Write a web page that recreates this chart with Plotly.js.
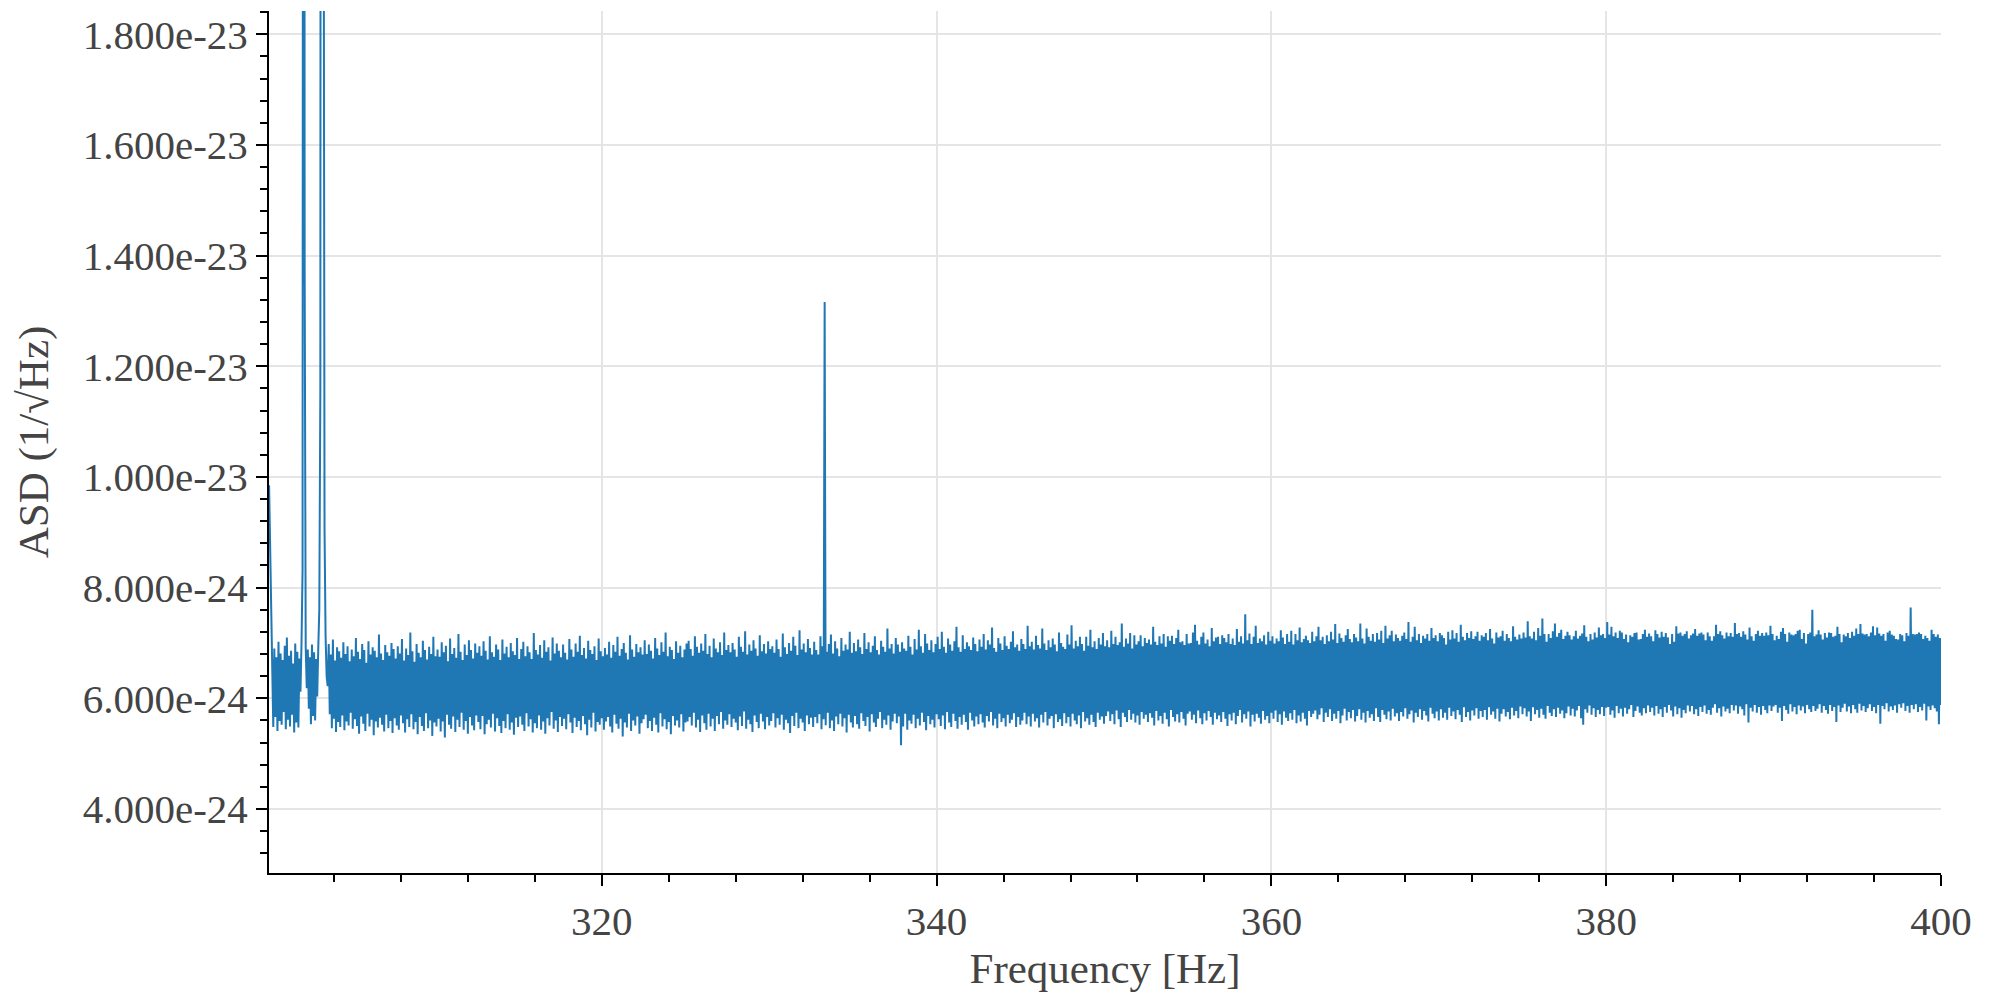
<!DOCTYPE html>
<html>
<head>
<meta charset="utf-8">
<script src="https://cdn.plot.ly/plotly-3.0.1.min.js"></script>
<style>
  body { margin: 0; background: #fff; }
  #asdChart { width: 2000px; height: 1000px; }
</style>
</head>
<body>
<div id="asdChart"></div>
<script>
// frequency grid of the spectrum: first bin and bin width, in Hz
var freqStart = 300.125;
var freqStep = 0.0625;

// ASD values, in units of 1e-26 /sqrt(Hz), one row per 2.5 Hz
var asdRows = [
  [985, 880, 772, 701, 548, 690, 566, 674, 541, 702, 559, 681, 552, 669, 575, 695, 544, 710, 561, 677, 549, 686, 570, 663, 538, 699, 556, 684, 547, 672, 612, 700, 832, 5200, 1380, 692, 618, 688, 581, 674],
  [553, 697, 568, 683, 560, 671, 603, 690, 760, 1160, 6000, 4800, 2400, 905, 712, 640, 622, 698, 571, 679, 546, 706, 563, 668, 539, 692, 557, 685, 548, 673, 569, 701, 542, 680, 558, 694, 551, 667, 574, 688],
  [545, 676, 562, 709, 550, 684, 536, 671, 567, 698, 554, 687, 541, 664, 572, 703, 549, 679, 561, 692, 533, 686, 558, 674, 547, 715, 565, 681, 552, 669, 540, 696, 570, 683, 546, 677, 559, 700, 537, 689],
  [564, 672, 551, 694, 543, 681, 569, 707, 555, 668, 538, 690, 562, 678, 548, 719, 571, 685, 544, 666, 557, 698, 535, 682, 566, 674, 550, 704, 541, 687, 573, 670, 546, 693, 560, 680, 532, 711, 556, 676],
  [549, 688, 563, 675, 540, 701, 558, 683, 529, 695, 570, 667, 552, 708, 545, 680, 567, 691, 539, 673, 561, 716, 548, 684, 574, 669, 543, 697, 559, 678, 536, 705, 566, 687, 551, 672, 542, 699, 569, 682],
  [557, 694, 544, 677, 568, 703, 535, 686, 553, 670, 561, 712, 547, 683, 572, 675, 540, 697, 564, 688, 550, 669, 537, 706, 559, 681, 546, 693, 571, 674, 543, 700, 556, 685, 534, 678, 565, 709, 548, 671],
  [567, 689, 552, 702, 541, 676, 573, 694, 549, 683, 562, 671, 538, 718, 555, 687, 546, 679, 569, 696, 543, 673, 558, 705, 536, 684, 564, 692, 551, 668, 575, 710, 545, 681, 560, 699, 539, 686, 566, 674],
  [550, 697, 563, 682, 544, 670, 571, 707, 556, 688, 537, 675, 565, 699, 548, 684, 559, 713, 542, 678, 568, 691, 553, 672, 533, 704, 561, 687, 547, 680, 574, 694, 540, 669, 557, 708, 552, 685, 564, 676],
  [543, 691, 558, 679, 566, 702, 549, 673, 538, 696, 570, 684, 554, 711, 545, 677, 563, 689, 531, 700, 556, 682, 547, 670, 572, 714, 541, 688, 560, 675, 551, 698, 567, 683, 536, 692, 555, 679, 562, 705],
  [570, 680, 546, 697, 559, 686, 541, 672, 565, 709, 552, 690, 538, 678, 573, 701, 549, 684, 562, 719, 544, 676, 557, 693, 535, 687, 568, 671, 551, 703, 560, 682, 547, 695, 571, 674, 540, 688, 556, 699],
  [558, 704, 566, 689, 551, 677, 574, 712, 547, 693, 561, 682, 539, 699, 569, 686, 555, 716, 543, 680, 572, 695, 549, 674, 563, 708, 541, 690, 568, 683, 553, 701, 575, 678, 545, 719, 560, 687, 552, 696],
  [571, 683, 548, 700, 563, 688, 556, 675, 542, 711, 567, 693, 550, 684, 576, 721, 545, 679, 561, 697, 553, 686, 539, 705, 569, 690, 557, 677, 546, 714, 572, 685, 558, 698, 544, 681, 566, 703, 551, 689],
  [559, 694, 573, 682, 547, 706, 564, 689, 552, 675, 570, 717, 543, 692, 561, 680, 555, 700, 537, 686, 568, 711, 550, 695, 574, 678, 546, 723, 563, 688, 556, 699, 541, 683, 569, 707, 553, 691, 565, 679],
  [548, 702, 566, 687, 555, 679, 571, 712, 544, 694, 562, 1316, 551, 684, 574, 698, 546, 715, 560, 681, 541, 703, 567, 690, 553, 676, 572, 709, 549, 686, 564, 697, 538, 688, 570, 720, 556, 682, 547, 700],
  [568, 685, 553, 706, 545, 692, 573, 680, 559, 718, 550, 689, 566, 701, 540, 683, 571, 695, 556, 712, 548, 687, 563, 679, 575, 704, 546, 693, 561, 684, 552, 726, 569, 690, 543, 698, 558, 681, 572, 709],
  [555, 697, 567, 684, 515, 701, 549, 690, 572, 686, 543, 713, 560, 693, 554, 679, 570, 707, 546, 688, 563, 724, 551, 694, 574, 682, 557, 716, 542, 699, 568, 687, 553, 705, 561, 683, 547, 698, 571, 711],
  [562, 689, 550, 720, 569, 693, 544, 682, 575, 708, 556, 697, 548, 686, 572, 703, 559, 729, 545, 692, 566, 684, 552, 714, 570, 689, 557, 701, 543, 694, 574, 687, 560, 710, 549, 698, 567, 685, 553, 706],
  [571, 693, 556, 716, 547, 688, 568, 705, 558, 697, 575, 728, 551, 691, 563, 684, 546, 709, 572, 699, 557, 687, 564, 712, 549, 695, 570, 689, 555, 702, 561, 721, 573, 692, 548, 697, 566, 686, 552, 707],
  [560, 698, 574, 689, 553, 731, 567, 694, 549, 702, 572, 688, 558, 713, 564, 696, 547, 690, 570, 726, 556, 699, 575, 687, 551, 705, 563, 692, 568, 708, 546, 697, 571, 685, 557, 719, 562, 700, 550, 693],
  [573, 689, 555, 715, 566, 697, 549, 732, 572, 690, 560, 704, 553, 694, 569, 711, 546, 698, 575, 686, 558, 711, 564, 695, 552, 724, 570, 692, 557, 703, 548, 689, 574, 709, 561, 697, 567, 718, 554, 694],
  [568, 705, 576, 692, 559, 722, 571, 698, 553, 711, 578, 696, 562, 701, 548, 735, 574, 693, 566, 708, 557, 699, 579, 718, 561, 690, 572, 714, 556, 697, 569, 703, 552, 714, 575, 694, 563, 709, 570, 700],
  [557, 706, 573, 697, 565, 729, 551, 702, 577, 696, 560, 712, 568, 699, 554, 716, 574, 693, 562, 712, 549, 704, 579, 713, 566, 698, 558, 709, 571, 724, 556, 701, 575, 703, 563, 696, 551, 716, 572, 699],
  [576, 700, 561, 719, 570, 733, 555, 704, 578, 697, 564, 711, 553, 719, 573, 699, 560, 706, 577, 694, 566, 727, 552, 703, 574, 710, 562, 711, 569, 698, 557, 714, 575, 709, 563, 701, 550, 716, 571, 698],
  [560, 708, 574, 696, 553, 725, 568, 702, 579, 712, 556, 699, 571, 752, 563, 705, 576, 717, 549, 698, 570, 711, 558, 731, 572, 700, 565, 708, 554, 703, 577, 714, 561, 697, 568, 720, 555, 704, 574, 712],
  [563, 699, 578, 708, 557, 703, 571, 723, 552, 710, 576, 698, 565, 716, 559, 702, 573, 722, 561, 697, 579, 716, 555, 705, 569, 728, 558, 701, 574, 707, 563, 713, 551, 705, 577, 700, 566, 720, 572, 703],
  [578, 712, 562, 729, 570, 705, 582, 711, 557, 698, 574, 714, 566, 703, 580, 720, 559, 706, 572, 734, 563, 700, 577, 717, 555, 709, 569, 702, 581, 714, 560, 725, 575, 707, 564, 701, 579, 716, 558, 710],
  [568, 703, 580, 735, 561, 708, 574, 699, 556, 726, 577, 711, 565, 704, 571, 716, 559, 702, 582, 718, 566, 706, 557, 722, 579, 700, 570, 731, 562, 708, 576, 714, 560, 722, 581, 703, 567, 715, 573, 709],
  [559, 704, 575, 713, 567, 719, 582, 707, 563, 738, 571, 702, 578, 711, 556, 729, 574, 705, 566, 716, 580, 700, 561, 713, 577, 708, 569, 716, 558, 704, 583, 727, 572, 709, 564, 714, 576, 703, 560, 718],
  [580, 714, 565, 709, 574, 697, 561, 720, 583, 706, 568, 723, 576, 708, 562, 718, 579, 702, 570, 733, 557, 711, 584, 705, 566, 718, 575, 709, 560, 721, 578, 707, 569, 712, 582, 720, 563, 704, 577, 714],
  [566, 711, 579, 718, 561, 705, 584, 725, 570, 708, 576, 699, 563, 719, 581, 710, 558, 712, 572, 722, 580, 704, 567, 716, 575, 709, 562, 703, 583, 730, 569, 711, 577, 706, 564, 715, 585, 708, 571, 719],
  [582, 710, 567, 739, 576, 712, 559, 708, 584, 720, 571, 705, 579, 727, 565, 713, 581, 744, 570, 716, 563, 702, 586, 716, 574, 709, 568, 721, 580, 735, 566, 711, 583, 718, 572, 724, 578, 707, 564, 713],
  [573, 720, 585, 714, 569, 706, 581, 712, 567, 722, 578, 708, 586, 713, 564, 717, 552, 732, 580, 711, 574, 703, 587, 716, 570, 706, 582, 719, 566, 710, 579, 728, 571, 714, 584, 716, 568, 709, 583, 738],
  [584, 715, 570, 729, 578, 712, 565, 719, 586, 709, 573, 722, 581, 719, 567, 707, 583, 715, 572, 701, 580, 714, 588, 711, 566, 718, 577, 719, 585, 706, 574, 707, 569, 716, 582, 724, 573, 711, 587, 717],
  [575, 712, 583, 703, 569, 723, 586, 716, 572, 710, 580, 720, 566, 711, 584, 718, 574, 710, 588, 698, 578, 716, 567, 702, 585, 730, 571, 717, 582, 719, 565, 713, 579, 716, 573, 721, 587, 708, 576, 714],
  [586, 717, 571, 725, 580, 713, 568, 717, 584, 719, 575, 715, 587, 705, 572, 719, 579, 712, 570, 704, 583, 712, 589, 733, 574, 716, 582, 721, 567, 714, 585, 708, 576, 719, 581, 712, 573, 718, 588, 711],
  [578, 736, 587, 716, 572, 718, 585, 711, 580, 721, 569, 715, 589, 706, 556, 728, 583, 712, 576, 704, 588, 716, 574, 722, 584, 713, 570, 718, 586, 713, 579, 719, 573, 714, 587, 731, 577, 716, 585, 705],
  [588, 713, 574, 707, 583, 720, 559, 727, 586, 716, 579, 702, 572, 719, 589, 715, 576, 714, 584, 716, 571, 722, 587, 724, 578, 707, 585, 718, 573, 699, 588, 716, 580, 719, 575, 760, 586, 712, 577, 715],
  [581, 723, 589, 715, 574, 706, 586, 718, 579, 710, 572, 719, 588, 718, 577, 711, 584, 713, 557, 729, 587, 716, 575, 701, 583, 715, 590, 712, 576, 718, 585, 709, 573, 720, 588, 713, 580, 726, 574, 716],
  [590, 734, 578, 717, 586, 715, 575, 716, 582, 712, 589, 719, 577, 730, 584, 714, 573, 728, 588, 717, 554, 713, 586, 716, 580, 704, 591, 719, 576, 722, 585, 715, 579, 713, 587, 707, 574, 706, 589, 716],
  [583, 714, 591, 703, 577, 718, 586, 713, 574, 764, 588, 716, 580, 715, 589, 716, 575, 719, 584, 716, 578, 707, 590, 713, 560, 709, 585, 704, 579, 724, 587, 716, 582, 711, 576, 715, 553, 709, 588, 720]
];

var asdUnit = 1e-26;
var asd = [].concat.apply([], asdRows).map(function (v) { return v * asdUnit; });

// y tick values, labelled like the original (plain hyphen in the exponent)
var asdTicks = [4e-24, 6e-24, 8e-24, 1e-23, 1.2e-23, 1.4e-23, 1.6e-23, 1.8e-23];
var asdTickText = asdTicks.map(function (v) { return v.toExponential(3); });

var inkColor = '#000';
var gridColor = '#e5e5e5';

var trace = {
  x0: freqStart,
  dx: freqStep,
  y: asd,
  type: 'scatter',
  mode: 'lines',
  line: {color: '#1f77b4', width: 2},
  hoverinfo: 'skip'
};

var layout = {
  width: 2000,
  height: 1000,
  margin: {l: 269, r: 59, t: 11, b: 127, pad: 0},
  paper_bgcolor: '#fff',
  plot_bgcolor: '#fff',
  showlegend: false,
  font: {family: 'Liberation Serif, Times New Roman, serif', size: 41, color: '#444'},
  xaxis: {
    range: [300.12, 400],
    automargin: false,
    tick0: 0,
    dtick: 20,
    ticks: 'outside',
    ticklen: 11,
    tickwidth: 2,
    tickcolor: inkColor,
    showline: true,
    linecolor: inkColor,
    linewidth: 2,
    showgrid: true,
    gridcolor: gridColor,
    gridwidth: 2,
    zeroline: false,
    minor: {dtick: 4, ticks: 'outside', ticklen: 7, tickwidth: 2, tickcolor: inkColor, showgrid: false},
    title: {text: 'Frequency [Hz]', standoff: 10, font: {size: 43}}
  },
  yaxis: {
    range: [2.842e-24, 1.842e-23],
    automargin: false,
    tickmode: 'array',
    tickvals: asdTicks,
    ticktext: asdTickText,
    ticks: 'outside',
    ticklen: 11,
    tickwidth: 2,
    tickcolor: inkColor,
    showline: true,
    linecolor: inkColor,
    linewidth: 2,
    showgrid: true,
    gridcolor: gridColor,
    gridwidth: 2,
    zeroline: false,
    minor: {tickmode: 'linear', tick0: 0, dtick: 4e-25, ticks: 'outside', ticklen: 7, tickwidth: 2, tickcolor: inkColor, showgrid: false},
    title: {text: 'ASD (1/√Hz)', standoff: 21, font: {size: 43}}
  }
};

Plotly.newPlot('asdChart', [trace], layout, {staticPlot: true, displayModeBar: false});
</script>
</body>
</html>
